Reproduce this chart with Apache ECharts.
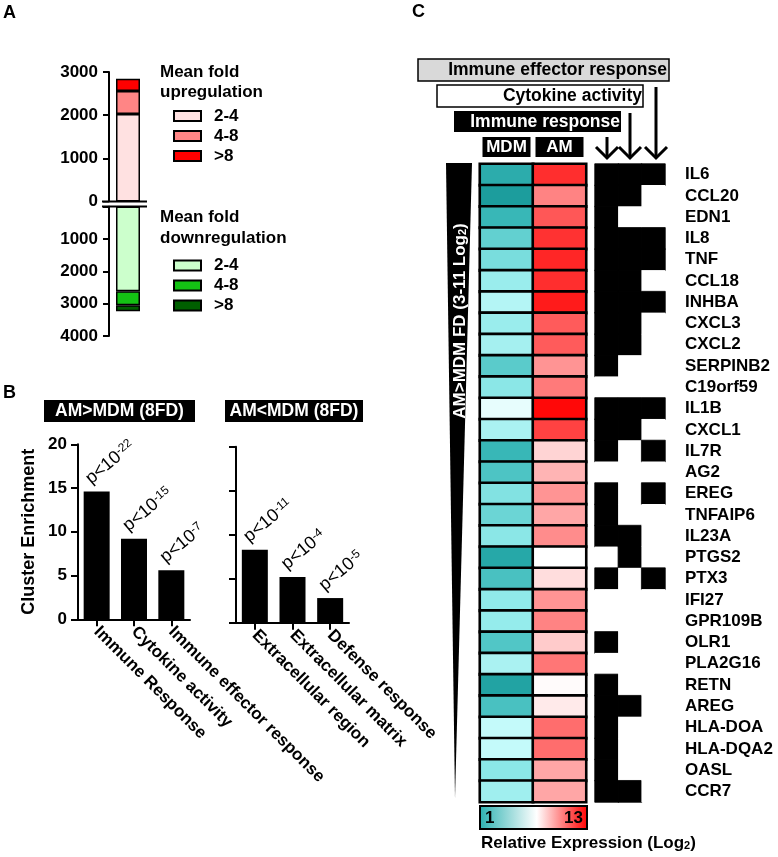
<!DOCTYPE html>
<html><head><meta charset="utf-8">
<script src="https://cdn.jsdelivr.net/npm/echarts@6/dist/echarts.min.js"></script>
<style>html,body{margin:0;padding:0;background:#fff}#c{width:778px;height:857px}</style>
</head><body><div id="c"></div>
<script>
const FONT = '"Liberation Sans", Arial, Helvetica, sans-serif';

// ---------- Panel A: number of regulated genes ----------
const foldBins = ['2-4', '4-8', '>8'];
const upregulatedCounts = [2025, 535, 285];
const downregulatedCounts = [2620, 430, 185];

// ---------- Panel B: cluster enrichment ----------
const termsUp = ['Immune Response', 'Cytokine activity', 'Immune effector response'];
const enrichUp = [14.6, 9.2, 5.6];
const pExpUp = ['-22', '-15', '-7'];
const termsDown = ['Extracellular region', 'Extracellular matrix', 'Defense response'];
const enrichDown = [8.3, 5.2, 2.8];
const pExpDown = ['-11', '-4', '-5'];

// ---------- Panel C: heatmap ----------
const samples = ['MDM', 'AM'];
const genes = ['IL6','CCL20','EDN1','IL8','TNF','CCL18','INHBA','CXCL3','CXCL2','SERPINB2',
  'C19orf59','IL1B','CXCL1','IL7R','AG2','EREG','TNFAIP6','IL23A','PTGS2','PTX3',
  'IFI27','GPR109B','OLR1','PLA2G16','RETN','AREG','HLA-DOA','HLA-DQA2','OASL','CCR7'];
const mdmExpr = [2.5,1.8,3.0,4.0,4.5,5.2,5.7,5.2,5.4,3.8,
  4.9,6.6,5.5,3.0,3.5,4.7,4.2,4.9,2.3,3.4,
  5.0,5.1,3.6,5.5,2.1,3.4,6.0,6.0,4.9,5.3];
const amExpr = [11.8,9.8,10.8,11.7,12.0,11.8,12.3,10.7,10.7,9.4,
  10.0,12.8,11.3,8.0,8.7,9.4,9.0,9.6,7.0,7.8,
  9.4,9.8,8.2,10.1,7.1,7.5,10.3,10.3,9.0,9.0];
const goTerms = ['Immune response', 'Cytokine activity', 'Immune effector response'];
const inImmuneResponse = [1,1,1,1,1,1,1,1,1,1, 0,1,1,1,0,1,1,1,0,1, 0,0,1,0,1,1,1,1,1,1];
const inCytokineActivity = [1,1,0,1,1,1,1,1,1,0, 0,1,1,0,0,0,0,1,1,0, 0,0,0,0,0,1,0,0,0,1];
const inImmuneEffector = [1,0,0,1,1,0,1,0,0,0, 0,1,0,1,0,1,0,0,0,1, 0,0,0,0,0,0,0,0,0,0];
const exprRange = [1, 13];

// ---------- build data ----------
const heatData = [];
genes.forEach((g, i) => { heatData.push([0, i, mdmExpr[i]]); heatData.push([1, i, amExpr[i]]); });
const memData = [];
[inImmuneResponse, inCytokineActivity, inImmuneEffector].forEach((arr, c) => {
  arr.forEach((v, i) => memData.push({ value: [c, i, v],
    itemStyle: v ? { borderColor: '#000', borderWidth: 0.8 } : { borderWidth: 0 } }));
});

const upColors = ['#ffe1e1', '#ff8585', '#ff0000'];
const downColors = ['#ccffcc', '#14c214', '#005f00'];

const axisBlack = { lineStyle: { color: '#000', width: 2 } };
const boldLbl = { fontSize: 17, fontWeight: 'bold', color: '#000', fontFamily: FONT };

const series = [];
foldBins.forEach((b, i) => series.push({
  type: 'bar', name: 'up ' + b, xAxisIndex: 0, yAxisIndex: 0, stack: 'up', barWidth: 24,
  data: [upregulatedCounts[i]],
  itemStyle: { color: upColors[i], borderColor: '#000', borderWidth: 1.5 }
}));
foldBins.forEach((b, i) => series.push({
  type: 'bar', name: 'down ' + b, xAxisIndex: 1, yAxisIndex: 1, stack: 'down', barWidth: 24,
  data: [downregulatedCounts[i]],
  itemStyle: { color: downColors[i], borderColor: '#000', borderWidth: 1.5 }
}));
function pLabel(exps) {
  return {
    show: true, position: 'top', rotate: 40, align: 'left', verticalAlign: 'middle',
    offset: [-3, -10], distance: 5,
    formatter: p => '{p|p<10}{s|' + exps[p.dataIndex] + '}',
    rich: {
      p: { fontSize: 18, color: '#000', fontFamily: FONT },
      s: { fontSize: 12, color: '#000', fontFamily: FONT, verticalAlign: 'top' }
    }
  };
}
series.push({ type: 'bar', xAxisIndex: 2, yAxisIndex: 2, data: enrichUp, barWidth: 26,
  itemStyle: { color: '#000' }, label: pLabel(pExpUp) });
series.push({ type: 'bar', xAxisIndex: 3, yAxisIndex: 3, data: enrichDown, barWidth: 26,
  itemStyle: { color: '#000' }, label: pLabel(pExpDown) });
series.push({ type: 'heatmap', xAxisIndex: 4, yAxisIndex: 4, data: heatData,
  itemStyle: { borderColor: '#000', borderWidth: 2.6 } });
series.push({ type: 'heatmap', xAxisIndex: 5, yAxisIndex: 5, data: memData });

const catAxisB = (gi, data) => ({
  gridIndex: gi, type: 'category', data: data,
  axisLine: axisBlack,
  axisTick: { show: true, alignWithLabel: true, length: 7, lineStyle: { color: '#000', width: 2 } },
  axisLabel: Object.assign({ interval: 0, rotate: -45, margin: 10 }, boldLbl)
});
const valAxis = (gi, extra) => Object.assign({
  gridIndex: gi, type: 'value', splitLine: { show: false },
  axisLine: Object.assign({ show: true }, axisBlack),
  axisTick: { show: true, length: 7, lineStyle: { color: '#000', width: 2 } },
  axisLabel: Object.assign({ margin: 11, formatter: v => String(v) }, boldLbl)
}, extra);

const legendCommon = {
  orient: 'vertical', left: 173, padding: 0, itemWidth: 27, itemHeight: 10, itemGap: 3,
  icon: 'rect', selectedMode: false,
  formatter: n => n.split(' ')[1],
  textStyle: { fontSize: 17, fontWeight: 'bold', color: '#000', fontFamily: FONT, lineHeight: 17, padding: [0, 0, 0, 8] }
};

function txt(x, y, text, opt) {
  return { type: 'text', x: x, y: y, z: 50, style: Object.assign({
    text: text, fill: '#000', fontSize: 17, fontWeight: 'bold', fontFamily: FONT,
    align: 'left', verticalAlign: 'middle', textAlign: 'left', textVerticalAlign: 'middle'
  }, opt || {}) };
}
function rect(x, y, w, h, fill, stroke, lw) {
  return { type: 'rect', z: 40, shape: { x: x, y: y, width: w, height: h },
    style: { fill: fill, stroke: stroke || null, lineWidth: lw || 0 } };
}
function line(x1, y1, x2, y2, lw) {
  return { type: 'line', z: 45, shape: { x1: x1, y1: y1, x2: x2, y2: y2 }, style: { stroke: '#000', lineWidth: lw } };
}
function arrow(x, yTop, yTip) {
  return [line(x, yTop, x, yTip - 1, 3),
    { type: 'polyline', z: 45, shape: { points: [[x - 11, yTip - 11], [x, yTip], [x + 11, yTip - 11]] },
      style: { stroke: '#000', lineWidth: 3, fill: null } }];
}

const graphic = [
  txt(3, 13, 'A', { fontSize: 18 }),
  txt(3, 393, 'B', { fontSize: 18 }),
  txt(412, 12, 'C', { fontSize: 18 }),
  // axis break in panel A
  rect(100, 202.5, 50, 3, '#fff'),
  line(102, 201.5, 147, 201.5, 2),
  line(102, 206.5, 147, 206.5, 2),
  // panel B headers
  rect(44, 400, 151, 22, '#000'),
  txt(119.5, 411, 'AM>MDM (8FD)', { fill: '#fff', fontSize: 17.5, align: 'center', textAlign: 'center' }),
  rect(225, 400, 138, 22, '#000'),
  txt(294, 411, 'AM<MDM (8FD)', { fill: '#fff', fontSize: 17.5, align: 'center', textAlign: 'center' }),
  // panel C GO headers
  rect(418, 59, 251, 22, '#d9d9d9', '#000', 1.5),
  txt(667, 70.5, 'Immune effector response', { fontSize: 17.5, align: 'right', textAlign: 'right' }),
  rect(437, 85, 206, 22, '#fff', '#000', 1.5),
  txt(642, 96.5, 'Cytokine activity', { fontSize: 17.5, align: 'right', textAlign: 'right' }),
  rect(454, 111, 167, 21, '#000'),
  txt(620, 122, 'Immune response', { fill: '#fff', fontSize: 17.5, align: 'right', textAlign: 'right' }),
  ...arrow(607, 137, 158),
  ...arrow(630, 113, 158),
  ...arrow(656, 87, 158),
  // fold-difference wedge
  { type: 'polygon', z: 40, shape: { points: [[446, 163], [472, 163], [455, 798]] }, style: { fill: '#000' } },
  { type: 'text', x: 460, y: 321, rotation: Math.PI / 2, z: 50, style: {
    text: '{a|AM>MDM FD (3-11 Log}{s|2}{a|)}',
    align: 'center', verticalAlign: 'middle', textAlign: 'center', textVerticalAlign: 'middle',
    rich: {
      a: { fill: '#fff', fontSize: 17, fontWeight: 'bold', fontFamily: FONT },
      s: { fill: '#fff', fontSize: 11, fontWeight: 'bold', fontFamily: FONT, verticalAlign: 'bottom' }
    } } },
  // colour bar
  { type: 'rect', z: 40, shape: { x: 480, y: 806, width: 107, height: 23 },
    style: { stroke: '#000', lineWidth: 2,
      fill: { type: 'linear', x: 0, y: 0, x2: 1, y2: 0, colorStops: [
        { offset: 0, color: '#2bb1b1' }, { offset: 0.53, color: '#ffffff' }, { offset: 1, color: '#ff0000' }] } } },
  txt(485, 818, String(exprRange[0])),
  txt(583, 818, String(exprRange[1]), { align: 'right', textAlign: 'right' }),
  { type: 'text', x: 481, y: 843, z: 50, style: {
    text: '{a|Relative Expression (Log}{s|2}{a|)}',
    align: 'left', verticalAlign: 'middle', textAlign: 'left', textVerticalAlign: 'middle',
    rich: {
      a: { fill: '#000', fontSize: 17, fontWeight: 'bold', fontFamily: FONT },
      s: { fill: '#000', fontSize: 11, fontWeight: 'bold', fontFamily: FONT, verticalAlign: 'bottom' }
    } } }
];

const option = {
  animation: false,
  backgroundColor: '#fff',
  textStyle: { fontFamily: FONT },
  title: [
    { text: 'Mean fold\nupregulation', left: 160, top: 62, padding: 0,
      textStyle: { fontSize: 17, fontWeight: 'bold', color: '#000', lineHeight: 20, fontFamily: FONT } },
    { text: 'Mean fold\ndownregulation', left: 160, top: 206.5, padding: 0,
      textStyle: { fontSize: 17, fontWeight: 'bold', color: '#000', lineHeight: 21, fontFamily: FONT } }
  ],
  legend: [
    Object.assign({ top: 107.5, data: foldBins.map(b => 'up ' + b) }, legendCommon),
    Object.assign({ top: 257, data: foldBins.map(b => 'down ' + b) }, legendCommon)
  ],
  grid: [
    { left: 109, top: 72, width: 38, height: 129.5 },
    { left: 109, top: 206.5, width: 38, height: 129.5 },
    { left: 78, top: 444.3, width: 112, height: 175 },
    { left: 236, top: 446.7, width: 113, height: 176 },
    { left: 480, top: 164, width: 106, height: 638 },
    { left: 595, top: 164, width: 70, height: 638 }
  ],
  xAxis: [
    { gridIndex: 0, type: 'category', data: ['genes'], show: false },
    { gridIndex: 1, type: 'category', data: ['genes'], show: false },
    catAxisB(2, termsUp),
    catAxisB(3, termsDown),
    { gridIndex: 4, type: 'category', data: samples, position: 'top',
      axisLine: { show: false }, axisTick: { show: false },
      axisLabel: { margin: 7, color: '#fff', backgroundColor: '#000', fontSize: 17, fontWeight: 'bold',
        fontFamily: FONT, width: 40, align: 'center', padding: [2, 4, 1, 4], lineHeight: 17 } },
    { gridIndex: 5, type: 'category', data: goTerms, show: false }
  ],
  yAxis: [
    valAxis(0, { min: 0, max: 3000, interval: 1000, axisTick: { show: true, length: 6, lineStyle: { color: '#000', width: 2 } } }),
    valAxis(1, { min: 0, max: 4000, interval: 1000, inverse: true,
      axisTick: { show: true, length: 6, lineStyle: { color: '#000', width: 2 } },
      axisLabel: Object.assign({ margin: 11, formatter: v => v === 0 ? '' : String(v) }, boldLbl) }),
    valAxis(2, { min: 0, max: 20, interval: 5, name: 'Cluster Enrichment', nameLocation: 'middle', nameGap: 40,
      nameTextStyle: Object.assign({}, boldLbl, { fontSize: 18 }) }),
    valAxis(3, { min: 0, max: 20, interval: 5, axisLabel: { show: false } }),
    { gridIndex: 4, type: 'category', data: genes, inverse: true, show: false },
    { gridIndex: 5, type: 'category', data: genes, inverse: true, position: 'right',
      axisLine: { show: false }, axisTick: { show: false },
      axisLabel: Object.assign({ margin: 20, interval: 0 }, boldLbl) }
  ],
  visualMap: [
    { type: 'continuous', min: exprRange[0], max: exprRange[1], seriesIndex: 8, show: false, calculable: false,
      inRange: { color: ['#0e8e8e', '#1fa1a1', '#38b7b7', '#62d0d0', '#90eaea', '#c4fafa', '#ffffff',
        '#ffd4d4', '#ffa6a6', '#ff7a7a', '#ff4e4e', '#ff2626', '#ff0000'] } },
    { type: 'piecewise', seriesIndex: 9, show: false,
      pieces: [{ value: 0, color: '#ffffff' }, { value: 1, color: '#000000' }] }
  ],
  series: series,
  graphic: graphic
};

const chart = echarts.init(document.getElementById('c'), null, { renderer: 'canvas' });
chart.setOption(option);
</script>
</body></html>
